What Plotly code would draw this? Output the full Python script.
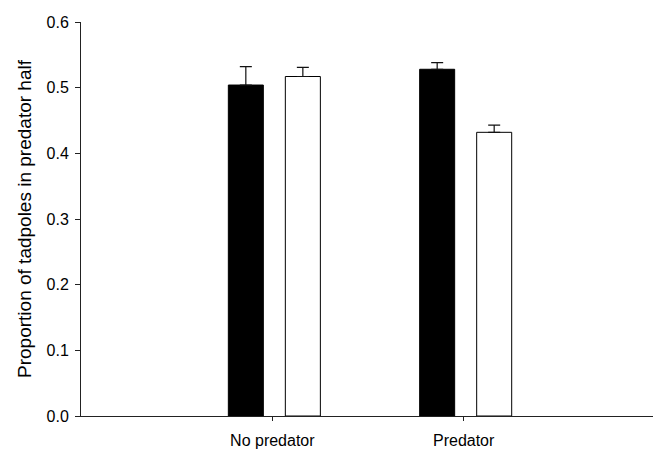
import plotly.graph_objects as go

categories = ["No predator", "Predator"]
x_pos = [0, 1]
black_vals = [0.504, 0.528]
black_err = [0.028, 0.010]
white_vals = [0.517, 0.432]
white_err = [0.014, 0.011]
y_ticks = [0.0, 0.1, 0.2, 0.3, 0.4, 0.5, 0.6]

fig = go.Figure()
fig.add_trace(go.Bar(
    x=x_pos, y=black_vals, width=0.183, offset=-0.23,
    marker=dict(color="black", line=dict(color="black", width=1)),
    error_y=dict(type="data", array=black_err, arrayminus=[0, 0], symmetric=False,
                 color="#111", thickness=1.2, width=6),
    showlegend=False,
))
fig.add_trace(go.Bar(
    x=x_pos, y=white_vals, width=0.183, offset=0.068,
    marker=dict(color="white", line=dict(color="black", width=1)),
    error_y=dict(type="data", array=white_err, arrayminus=[0, 0], symmetric=False,
                 color="#111", thickness=1.2, width=6),
    showlegend=False,
))

fig.update_layout(
    width=661, height=453,
    margin=dict(l=73, r=14, t=6, b=45),
    paper_bgcolor="white", plot_bgcolor="white",
    font=dict(family="Liberation Sans, Arial, sans-serif", size=16, color="black"),
    xaxis=dict(
        range=[-1, 2], tickmode="array", tickvals=x_pos, ticktext=categories,
        showline=True, linecolor="#222", linewidth=1, ticks="outside", ticklen=4,
        tickcolor="#222", showgrid=False, zeroline=False,
        tickfont=dict(size=16), ticklabelstandoff=6,
    ),
    yaxis=dict(
        range=[0, 0.6], tickmode="array", tickvals=y_ticks, tickformat=".1f",
        showline=True, linecolor="#222", linewidth=1, ticks="outside", ticklen=5,
        tickcolor="#222", showgrid=False, zeroline=False, ticklabelstandoff=3,
        ticklabeloverflow="allow",
        title=dict(text="Proportion of tadpoles in predator half", font=dict(size=19), standoff=9),
        tickfont=dict(size=16),
    ),
)

fig.write_html("out.html", config={"displayModeBar": False})
